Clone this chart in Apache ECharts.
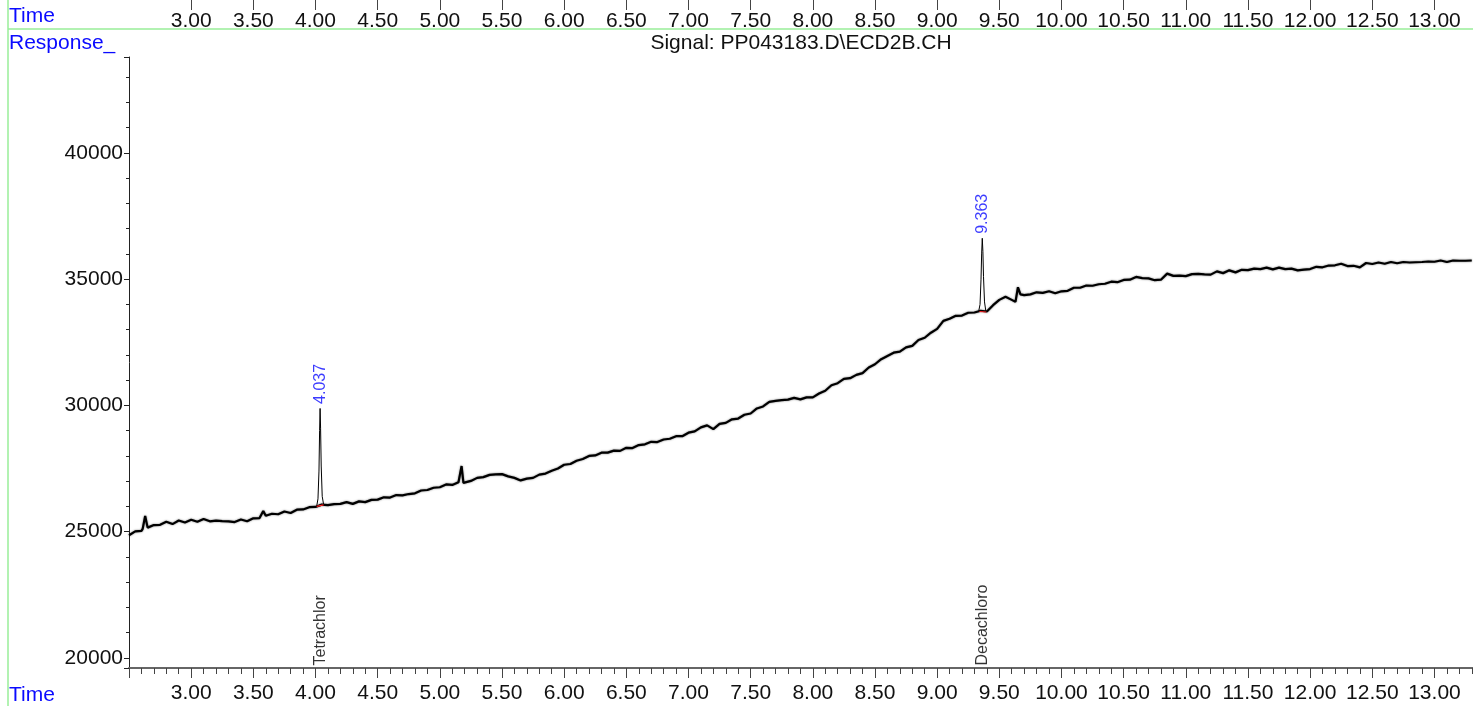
<!DOCTYPE html>
<html>
<head>
<meta charset="utf-8">
<script src="https://cdn.jsdelivr.net/npm/echarts@6.0.0/dist/echarts.min.js"></script>
<style>
html,body{margin:0;padding:0;background:#fff;}
#chart{width:1473px;height:706px;}
</style>
</head>
<body>
<div id="chart"></div>
<script>
// Baseline chromatogram trace (time in min, response)
const times = [
 2.50,2.55,2.60,2.61,2.63,2.65,2.70,2.75,2.80,2.85,2.90,2.95,3.00,3.05,3.10,3.15,3.20,3.25,3.30,3.35,3.40,3.45,3.50,3.55,3.58,3.60,3.65,3.70,3.75,3.80,3.85,3.90,3.95,4.00,4.05,4.10,4.15,4.20,4.25,4.30,4.35,4.40,4.45,4.50,4.55,4.60,4.65,4.70,4.75,4.80,4.85,4.90,4.95,5.00,5.05,5.10,5.15,5.16,5.175,5.19,5.20,5.25,5.30,5.35,5.40,5.45,5.50,5.55,5.60,5.65,5.70,5.75,5.80,5.85,5.90,5.95,6.00,6.05,6.10,6.15,6.20,6.25,6.30,6.35,6.40,6.45,6.50,6.55,6.60,6.65,6.70,6.75,6.80,6.85,6.90,6.95,7.00,7.05,7.10,7.15,7.20,7.25,7.30,7.35,7.40,7.45,7.50,7.55,7.60,7.65,7.70,7.75,7.80,7.85,7.90,7.95,8.00,8.05,8.10,8.15,8.20,8.25,8.30,8.35,8.40,8.45,8.50,8.55,8.60,8.65,8.70,8.75,8.80,8.85,8.90,8.95,9.00,9.05,9.10,9.15,9.20,9.25,9.30,9.35,9.40,9.45,9.50,9.55,9.60,9.63,9.65,9.67,9.70,9.75,9.80,9.85,9.90,9.95,10.00,10.05,10.10,10.15,10.20,10.25,10.30,10.35,10.40,10.45,10.50,10.55,10.60,10.65,10.70,10.75,10.80,10.85,10.90,10.95,11.00,11.05,11.10,11.15,11.20,11.25,11.30,11.35,11.40,11.45,11.50,11.55,11.60,11.65,11.70,11.75,11.80,11.85,11.90,11.95,12.00,12.05,12.10,12.15,12.20,12.25,12.30,12.35,12.40,12.45,12.50,12.55,12.60,12.65,12.70,12.75,12.80,12.85,12.90,12.95,13.00,13.05,13.10,13.15,13.20,13.25,13.30
];
const responses = [
 24860,25010,25030,25110,25620,25160,25260,25270,25390,25300,25440,25360,25470,25390,25500,25410,25440,25420,25410,25380,25480,25410,25530,25540,25820,25630,25710,25690,25800,25740,25870,25880,25970,25980,26070,26050,26090,26100,26170,26100,26200,26170,26260,26270,26360,26350,26450,26440,26490,26520,26630,26650,26740,26760,26870,26850,26960,26960,27600,26930,26970,27010,27130,27160,27250,27270,27280,27190,27130,27030,27100,27130,27260,27300,27410,27500,27650,27680,27810,27880,28000,28020,28130,28130,28210,28200,28320,28310,28430,28460,28560,28550,28650,28680,28780,28780,28920,28970,29130,29210,29060,29270,29310,29450,29480,29630,29680,29880,29960,30140,30180,30210,30230,30300,30240,30320,30320,30470,30580,30800,30880,31050,31080,31210,31280,31500,31630,31830,31960,32090,32130,32300,32360,32590,32680,32880,33030,33350,33430,33550,33560,33670,33680,33750,33720,33970,34180,34300,34180,34100,34680,34400,34370,34400,34480,34460,34520,34440,34520,34540,34660,34660,34750,34740,34800,34820,34900,34880,34970,34980,35090,35040,35030,34960,34980,35220,35130,35140,35120,35200,35210,35190,35180,35310,35240,35350,35270,35370,35360,35420,35400,35460,35390,35460,35400,35420,35350,35380,35400,35490,35470,35540,35550,35610,35520,35530,35470,35640,35600,35660,35610,35680,35630,35680,35660,35670,35680,35700,35690,35740,35680,35740,35730,35730,35740
];
// Integrated peaks
const peak1Times = [4.010,4.020,4.028,4.033,4.037,4.041,4.046,4.054,4.065];
const peak1Values = [26020,26300,27400,29000,29880,29100,27600,26400,26080];
const peak2Times = [9.335,9.345,9.353,9.358,9.363,9.368,9.373,9.381,9.392];
const peak2Values = [33750,34000,35000,36000,36620,36100,35100,34100,33720];
// Integration baselines (red)
const base1Times = [4.010,4.065];
const base1Values = [26000,26060];
const base2Times = [9.340,9.395];
const base2Values = [33720,33700];
// Peak annotations
const peakRT = [4.037, 9.363];
const peakTop = [29880, 36620];
const peakLabels = ['4.037', '9.363'];
const compoundNames = ['Tetrachlor', 'Decachloro'];
// Axis
const xMin = 2.5, xMax = 13.31, xStep = 0.5;
const yMin = 19600, yMax = 43800, yStep = 5000;

const zip = (a, b) => a.map((v, i) => [v, b[i]]);
const FONT = "'Liberation Sans', Arial, sans-serif";
const BLUE = '#0a0aff';

const chart = echarts.init(document.getElementById('chart'), null, {renderer: 'canvas'});

const xAxisCommon = {
  type: 'value', min: xMin, max: xMax, interval: xStep,
  splitLine: {show: false},
  axisLabel: {
    formatter: v => v.toFixed(2), showMinLabel: false, showMaxLabel: false,
    fontFamily: FONT, fontSize: 21, color: '#111', margin: 15
  },
  minorTick: {show: true, splitNumber: 5, length: 6, lineStyle: {color: '#444', width: 1}},
  minorSplitLine: {show: false}
};

chart.setOption({
  animation: false,
  backgroundColor: '#fff',
  grid: [
    {left: 129, right: 0, top: 57, bottom: 38, containLabel: false},
    {left: 129, right: 0, top: -44, height: 32, containLabel: false}
  ],
  xAxis: [
    Object.assign({}, xAxisCommon, {
      gridIndex: 0, position: 'bottom',
      axisLine: {show: true, onZero: false, lineStyle: {color: '#666', width: 2}},
      axisTick: {show: true, length: 10, lineStyle: {color: '#444', width: 1}}
    }),
    Object.assign({}, xAxisCommon, {
      gridIndex: 1, position: 'bottom',
      axisLine: {show: false, onZero: false},
      axisTick: {show: true, length: 14, lineStyle: {color: '#444', width: 1}},
      minorTick: {show: false}
    })
  ],
  yAxis: [
    {
      gridIndex: 0, type: 'value', min: yMin, max: yMax,
      minInterval: yStep, maxInterval: yStep,
      splitLine: {show: false},
      axisLine: {show: true, onZero: false, lineStyle: {color: '#222', width: 1}},
      axisTick: {show: true, length: 5, lineStyle: {color: '#222'}},
      minorTick: {show: true, splitNumber: 5, length: 3, lineStyle: {color: '#222'}},
      axisLabel: {
        formatter: v => String(v),
        showMinLabel: false, showMaxLabel: false, fontFamily: FONT, fontSize: 21, color: '#111', margin: 6
      }
    },
    {gridIndex: 1, type: 'value', show: false}
  ],
  graphic: [
    {type: 'line', shape: {x1: 8, y1: 0, x2: 8, y2: 706}, style: {stroke: '#99ee99', lineWidth: 1.5}, silent: true},
    {type: 'line', shape: {x1: 8, y1: 29, x2: 1473, y2: 29}, style: {stroke: '#99ee99', lineWidth: 1.5}, silent: true},
    {type: 'text', x: 9, y: 16, style: {text: 'Time', fill: BLUE, font: "21px " + FONT, verticalAlign: 'middle'}},
    {type: 'text', x: 9, y: 43, style: {text: 'Response_', fill: BLUE, font: "21px " + FONT, verticalAlign: 'middle'}},
    {type: 'text', x: 9, y: 695, style: {text: 'Time', fill: BLUE, font: "21px " + FONT, verticalAlign: 'middle'}},
    {type: 'text', x: 801, y: 43, style: {text: 'Signal: PP043183.D\\ECD2B.CH', fill: '#111', font: "21px " + FONT, align: 'center', verticalAlign: 'middle'}}
  ],
  series: [
    {
      type: 'line', xAxisIndex: 0, yAxisIndex: 0, data: zip(times, responses),
      showSymbol: false, symbol: 'none',
      lineStyle: {color: '#000', width: 2.2, shadowColor: 'rgba(0,0,0,0.55)', shadowBlur: 2}, z: 2
    },
    {
      type: 'line', data: zip(peak1Times, peak1Values), showSymbol: false, symbol: 'none',
      lineStyle: {color: '#000', width: 1}, z: 3
    },
    {
      type: 'line', data: zip(peak2Times, peak2Values), showSymbol: false, symbol: 'none',
      lineStyle: {color: '#000', width: 1}, z: 3
    },
    {
      type: 'line', data: zip(base1Times, base1Values), showSymbol: false, symbol: 'none',
      lineStyle: {color: '#ff2020', width: 1.2}, z: 4
    },
    {
      type: 'line', data: zip(base2Times, base2Values), showSymbol: false, symbol: 'none',
      lineStyle: {color: '#ff2020', width: 1.2}, z: 4
    },
    {
      type: 'scatter', data: zip(peakRT, peakTop), symbolSize: 1,
      itemStyle: {color: 'rgba(0,0,0,0)'}, z: 5,
      label: {
        show: true, position: 'top', distance: 4, rotate: 90, align: 'left', verticalAlign: 'middle',
        formatter: p => peakLabels[p.dataIndex], color: BLUE, fontFamily: FONT, fontSize: 16
      }
    },
    {
      type: 'scatter', data: zip(peakRT, peakRT.map(() => yMin)), symbolSize: 1,
      itemStyle: {color: 'rgba(0,0,0,0)'}, z: 5,
      label: {
        show: true, position: 'top', distance: 2, rotate: 90, align: 'left', verticalAlign: 'middle',
        formatter: p => compoundNames[p.dataIndex], color: '#000', fontFamily: FONT, fontSize: 16
      }
    }
  ]
});
</script>
</body>
</html>
